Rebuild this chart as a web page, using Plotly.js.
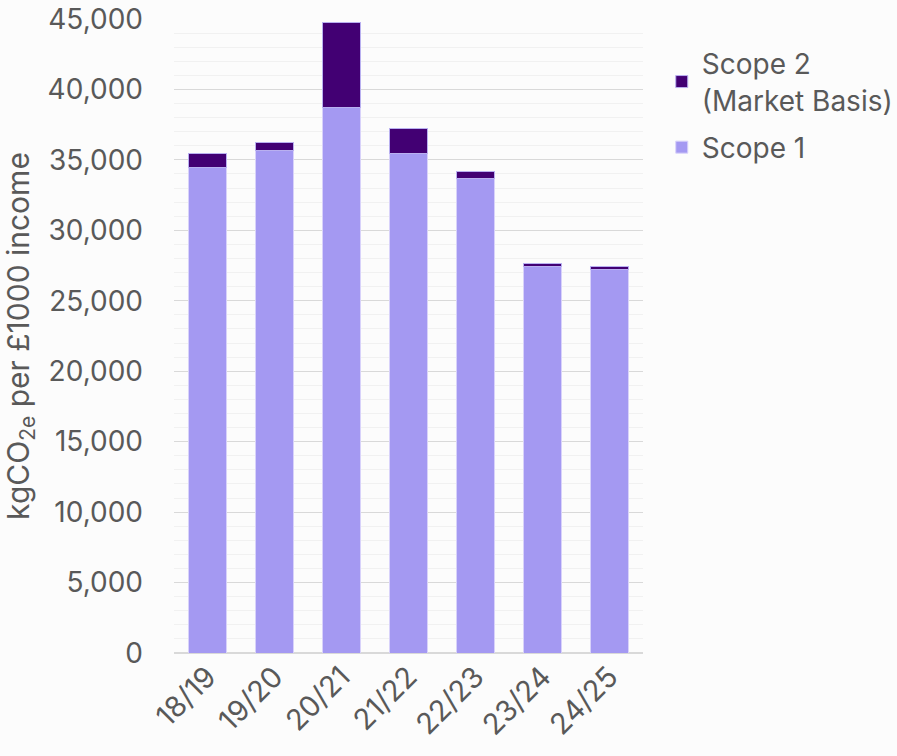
<!DOCTYPE html>
<html><head><meta charset="utf-8">
<script src="https://cdn.plot.ly/plotly-3.0.1.min.js"></script>
<style>html,body{margin:0;padding:0;background:#fcfcfc;}</style>
</head><body>
<div id="chart" style="width:897px;height:756px;"></div>
<script>
const years = ["18/19","19/20","20/21","21/22","22/23","23/24","24/25"];
const scope1 = [34440, 35650, 38750, 35440, 33710, 27440, 27250];
const scope2 = [1030, 590, 6010, 1800, 450, 240, 190];
const yTicks = [0,5000,10000,15000,20000,25000,30000,35000,40000,45000];

const font = "Inter, 'Open Sans', sans-serif";
const grey = "#595959";

const data = [
  {type:"bar", name:"Scope 1", x:years, y:scope1, legendgroup:"s1", legendrank:2,
   marker:{color:"#a499f2", line:{color:"#d8d2fa", width:1}}},
  {type:"bar", name:"Scope 2<br>(Market Basis)", x:years, y:scope2, legendgroup:"s2", legendrank:1,
   marker:{color:"#420073", line:{color:"#b9b0f0", width:1}}}
];

const layout = {
  width:897, height:756,
  paper_bgcolor:"#fcfcfc", plot_bgcolor:"#fcfcfc",
  barmode:"stack", bargap:0.43,
  margin:{l:174, r:254, t:19, b:103, autoexpand:false},
  font:{family:font, color:grey},
  xaxis:{tickangle:-45, tickfont:{size:29, color:grey}, showline:false, ticks:"", showgrid:false},
  yaxis:{range:[0,45000], tickvals:yTicks, tickformat:",d", tickfont:{size:28, color:grey},
    gridcolor:"#d9d9d9", gridwidth:1, zeroline:true, zerolinecolor:"#d9d9d9", zerolinewidth:1.5,
    ticks:"", ticklabelstandoff:30,
    minor:{dtick:1000, showgrid:true, gridcolor:"#f1f1f1", gridwidth:1},
    title:{text:"kgCO<sub>2e</sub> per £1000 income", font:{size:30, color:grey}, standoff:10}},
  legend:{x:1.04, xanchor:"left", xref:"paper", y:0.969, yanchor:"top", traceorder:"grouped",
    font:{size:28, color:grey}, itemwidth:30, tracegroupgap:8, bgcolor:"rgba(0,0,0,0)"},
  showlegend:true
};
Plotly.newPlot("chart", data, layout, {displayModeBar:false, staticPlot:true});
</script>
</body></html>
